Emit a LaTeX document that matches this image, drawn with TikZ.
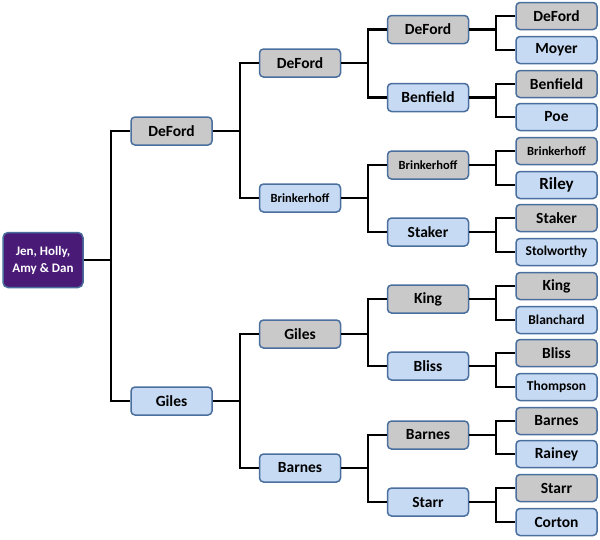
\documentclass[tikz,border=0pt]{standalone}
\usepackage{fontspec}
\setmainfont{Carlito}
\definecolor{grayfill}{HTML}{C9C9C9}
\definecolor{bluefill}{HTML}{C6DAF3}
\definecolor{boxborder}{HTML}{4A6F9E}
\definecolor{rootfill}{HTML}{4A1A77}
\tikzset{
  box/.style={draw=boxborder, line width=1.5pt, rounded corners=4pt, minimum width=81pt, minimum height=28pt, inner sep=0pt, font=\fontsize{15.5}{17}\selectfont\bfseries, text=black},
  gbox/.style={box, fill=grayfill},
  bbox/.style={box, fill=bluefill},
  leaf/.style={minimum height=27pt},
  small/.style={font=\fontsize{12.5}{14}\selectfont\bfseries},
  mid/.style={font=\fontsize{13.5}{15}\selectfont\bfseries},
  rootbox/.style={draw=boxborder, line width=1.5pt, rounded corners=5pt, fill=rootfill, minimum width=80pt, minimum height=55pt, inner sep=0pt, text=white, align=center, font=\fontsize{13}{17}\selectfont\bfseries},
  conn/.style={draw=black, line width=2.2pt}
}
\begin{document}
\begin{tikzpicture}[x=1pt, y=-1pt]
\useasboundingbox (0,0) rectangle (600,539);
% root
\node[rootbox] (r) at (43,260) {Jen, Holly,\\Amy \& Dan};
% level 1
\node[gbox] (a) at (171.5,131) {DeFord};
\node[bbox] (b) at (171.5,401) {Giles};
% level 2
\node[gbox] (aa) at (300,63) {DeFord};
\node[bbox,small] (ab) at (300,198) {Brinkerhoff};
\node[gbox] (ba) at (300,334) {Giles};
\node[bbox] (bb) at (300,468) {Barnes};
% level 3
\node[gbox] (aaa) at (428,29.5) {DeFord};
\node[bbox] (aab) at (428,97.5) {Benfield};
\node[gbox,small] (aba) at (428,165) {Brinkerhoff};
\node[bbox] (abb) at (428,232) {Staker};
\node[gbox] (baa) at (428,299) {King};
\node[bbox] (bab) at (428,366) {Bliss};
\node[gbox] (bba) at (428,435) {Barnes};
\node[bbox] (bbb) at (428,502) {Starr};
% level 4
\node[gbox,leaf] (l1) at (556.5,16) {DeFord};
\node[bbox,leaf] (l2) at (556.5,50) {Moyer};
\node[gbox,leaf] (l3) at (556.5,84) {Benfield};
\node[bbox,leaf] (l4) at (556.5,117) {Poe};
\node[gbox,leaf,small] (l5) at (556.5,151) {Brinkerhoff};
\node[bbox,leaf,font=\fontsize{17}{19}\selectfont\bfseries] (l6) at (556.5,185) {Riley};
\node[gbox,leaf] (l7) at (556.5,218) {Staker};
\node[bbox,leaf,mid] (l8) at (556.5,252) {Stolworthy};
\node[gbox,leaf] (l9) at (556.5,286) {King};
\node[bbox,leaf,mid] (l10) at (556.5,320) {Blanchard};
\node[gbox,leaf] (l11) at (556.5,353) {Bliss};
\node[bbox,leaf,mid] (l12) at (556.5,387) {Thompson};
\node[gbox,leaf] (l13) at (556.5,421) {Barnes};
\node[bbox,leaf] (l14) at (556.5,454) {Rainey};
\node[gbox,leaf] (l15) at (556.5,488) {Starr};
\node[bbox,leaf] (l16) at (556.5,522) {Corton};
% connectors
\foreach \p/\c in {r/a, r/b, a/aa, a/ab, b/ba, b/bb,
  aa/aaa, aa/aab, ab/aba, ab/abb, ba/baa, ba/bab, bb/bba, bb/bbb,
  aaa/l1, aaa/l2, aab/l3, aab/l4, aba/l5, aba/l6, abb/l7, abb/l8,
  baa/l9, baa/l10, bab/l11, bab/l12, bba/l13, bba/l14, bbb/l15, bbb/l16}
  \draw[conn] (\p.east) -- ++(27,0) |- (\c.west);
\end{tikzpicture}
\end{document}
